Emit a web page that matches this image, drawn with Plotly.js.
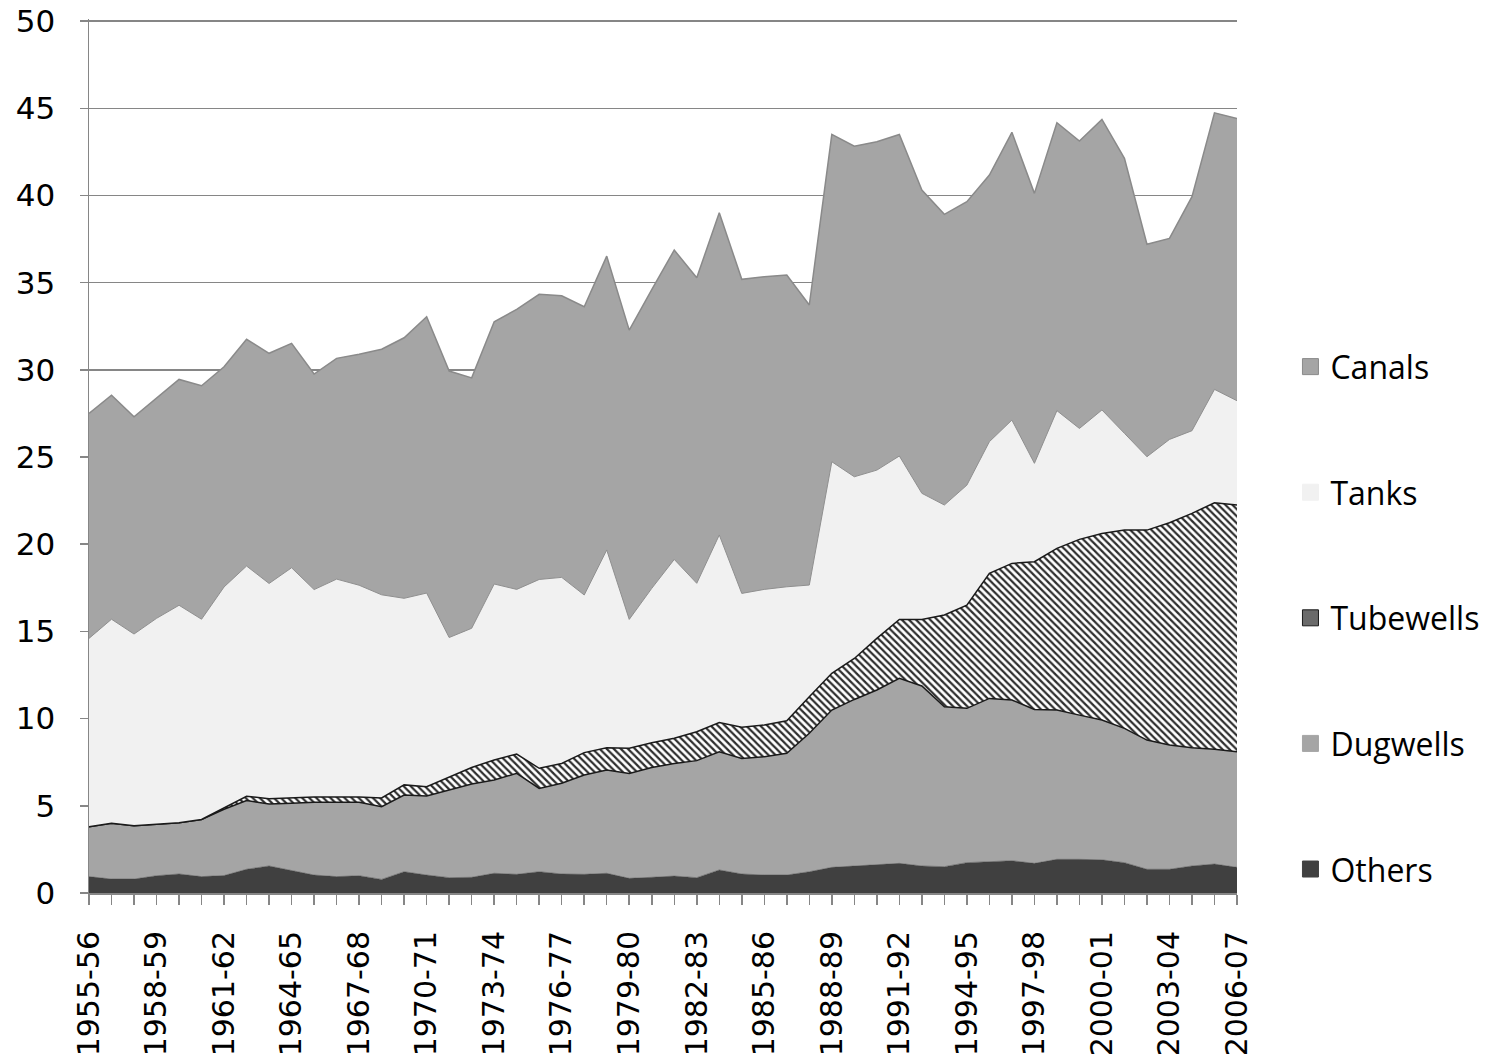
<!DOCTYPE html>
<html>
<head>
<meta charset="utf-8">
<script src="https://cdn.plot.ly/plotly-3.0.1.min.js"></script>
<style>
  html, body { margin: 0; padding: 0; background: #ffffff; }
  #chart { width: 1491px; height: 1063px; }
</style>
</head>
<body>
<div id="chart"></div>
<script>
const years = ["1955-56","1956-57","1957-58","1958-59","1959-60","1960-61","1961-62","1962-63","1963-64","1964-65",
  "1965-66","1966-67","1967-68","1968-69","1969-70","1970-71","1971-72","1972-73","1973-74","1974-75",
  "1975-76","1976-77","1977-78","1978-79","1979-80","1980-81","1981-82","1982-83","1983-84","1984-85",
  "1985-86","1986-87","1987-88","1988-89","1989-90","1990-91","1991-92","1992-93","1993-94","1994-95",
  "1995-96","1996-97","1997-98","1998-99","1999-00","2000-01","2001-02","2002-03","2003-04","2004-05",
  "2005-06","2006-07"];

const tickLabels = ["1955-56","1958-59","1961-62","1964-65","1967-68","1970-71","1973-74","1976-77","1979-80",
  "1982-83","1985-86","1988-89","1991-92","1994-95","1997-98","2000-01","2003-04","2006-07"];

const others = [0.94,0.80,0.80,0.99,1.09,0.94,1.00,1.36,1.55,1.28,
  1.03,0.94,0.99,0.78,1.22,1.03,0.88,0.90,1.13,1.07,
  1.22,1.09,1.07,1.13,0.84,0.90,0.97,0.88,1.32,1.09,
  1.03,1.03,1.22,1.47,1.55,1.61,1.70,1.55,1.51,1.74,
  1.80,1.85,1.70,1.93,1.93,1.90,1.74,1.36,1.36,1.55,
  1.66,1.47];

const dugwells = [2.86,3.20,3.05,2.95,2.94,3.28,3.80,3.94,3.55,3.87,
  4.17,4.26,4.21,4.17,4.40,4.53,5.02,5.35,5.35,5.79,
  4.78,5.20,5.70,5.92,6.02,6.30,6.46,6.71,6.78,6.63,
  6.79,6.98,7.94,9.02,9.55,10.03,10.61,10.32,9.17,8.85,
  9.36,9.22,8.83,8.56,8.27,8.02,7.70,7.41,7.13,6.78,
  6.58,6.63];

const tubewells = [0,0,0,0,0,0,0.10,0.25,0.30,0.30,
  0.30,0.30,0.30,0.50,0.58,0.54,0.73,0.95,1.15,1.11,
  1.15,1.14,1.28,1.28,1.44,1.42,1.44,1.66,1.67,1.78,
  1.81,1.87,2.10,2.11,2.35,2.96,3.38,3.82,5.26,5.92,
  7.17,7.83,8.47,9.27,10.08,10.70,11.37,12.04,12.74,13.44,
  14.14,14.15];

const tanks = [10.80,11.70,11.00,11.81,12.47,11.48,12.65,13.20,12.35,13.20,
  11.90,12.50,12.15,11.65,10.70,11.10,8.02,7.98,10.09,9.44,
  10.83,10.67,9.04,11.34,7.39,8.85,10.26,8.51,10.76,7.68,
  7.78,7.68,6.40,12.13,10.42,9.65,9.37,7.23,6.31,6.88,
  7.55,8.22,5.64,7.90,6.36,7.08,5.55,4.21,4.78,4.74,
  6.50,5.98];

const canals = [12.90,12.85,12.46,12.65,12.95,13.39,12.63,13.00,13.20,12.87,
  12.36,12.66,13.24,14.08,14.94,15.85,15.28,14.36,15.04,16.06,
  16.35,16.15,16.53,16.85,16.59,17.13,17.74,17.52,18.48,18.01,
  17.93,17.88,16.06,18.77,18.96,18.83,18.44,17.39,16.67,16.25,
  15.29,16.50,15.48,16.51,16.48,16.66,15.77,12.18,11.53,13.42,
  15.86,16.19];

const seriesNames = ["Others","Dugwells","Tubewells","Tanks","Canals"];

const GRAY = "#a5a5a5";

function area(name, y, fillcolor, line, pattern) {
  const t = {
    type: "scatter", mode: "lines", name: name, x: years, y: y,
    stackgroup: "one", fillcolor: fillcolor, line: line,
    showlegend: false, hoverinfo: "skip"
  };
  if (pattern) t.fillpattern = pattern;
  return t;
}

const traces = [
  area(seriesNames[0], others, "#404040", {color: "#404040", width: 0.5}),
  area(seriesNames[1], dugwells, GRAY, {color: "#1a1a1a", width: 1.5}),
  area(seriesNames[2], tubewells, "#ffffff", {color: "#1a1a1a", width: 1.5},
       {shape: "\\", fgcolor: "#2e2e2e", bgcolor: "#ffffff", size: 5, solidity: 0.45}),
  area(seriesNames[3], tanks, "#f1f1f1", {color: "#8f8f8f", width: 1}),
  area(seriesNames[4], canals, GRAY, {color: "#8a8a8a", width: 1.5})
];

// legend entries (square swatches)
const legendSpec = [
  {name: "Canals", color: GRAY, line: "#8a8a8a"},
  {name: "Tanks", color: "#f1f1f1", line: "#f1f1f1"},
  {name: "Tubewells", color: "#6a6a6a", line: "#1a1a1a"},
  {name: "Dugwells", color: GRAY, line: GRAY},
  {name: "Others", color: "#404040", line: "#404040"}
];
legendSpec.forEach((s, k) => {
  traces.push({
    type: "scatter", mode: "markers", name: s.name,
    x: [years[0]], y: [null], legendgroup: "g" + k, showlegend: true,
    marker: {symbol: "square", size: 16, color: s.color, line: {color: s.line, width: 1}},
    hoverinfo: "skip"
  });
});

const tickText = years.map(y => tickLabels.includes(y) ? y : "");

const layout = {
  width: 1491, height: 1063,
  paper_bgcolor: "#ffffff", plot_bgcolor: "#ffffff",
  margin: {l: 89, r: 254, t: 19, b: 170, pad: 0},
  showlegend: true,
  font: {family: "DejaVu Sans, Verdana, sans-serif", size: 30, color: "#000000"},
  xaxis: {
    type: "category", range: [0, years.length - 1],
    tickmode: "array", tickvals: years, ticktext: tickText,
    tickangle: -90, ticks: "outside", ticklen: 10, tickwidth: 1.5, tickcolor: "#868686",
    showline: true, linecolor: "#868686", linewidth: 2,
    showgrid: false, zeroline: false, ticklabelstandoff: 14,
    tickfont: {family: "DejaVu Sans, Verdana, sans-serif", size: 30, color: "#000000"}
  },
  yaxis: {
    range: [0, 50.12], tickvals: [0, 5, 10, 15, 20, 25, 30, 35, 40, 45, 50],
    ticks: "outside", ticklen: 8, tickwidth: 1.5, tickcolor: "#868686",
    showline: true, linecolor: "#868686", linewidth: 1.5,
    showgrid: true, gridcolor: "#868686", gridwidth: 1.5, zeroline: false,
    ticklabelstandoff: 18,
    tickfont: {family: "DejaVu Sans, Verdana, sans-serif", size: 31, color: "#000000"}
  },
  legend: {
    xref: "container", yref: "paper",
    x: 0.8655, xanchor: "left", y: 0.6335, yanchor: "top",
    traceorder: "grouped", tracegroupgap: 81,
    font: {family: "Open Sans, Lato, sans-serif", size: 32, color: "#000000"},
    bgcolor: "rgba(0,0,0,0)", borderwidth: 0
  },
  hovermode: false
};

Plotly.newPlot("chart", traces, layout, {staticPlot: true, displayModeBar: false});
</script>
</body>
</html>
